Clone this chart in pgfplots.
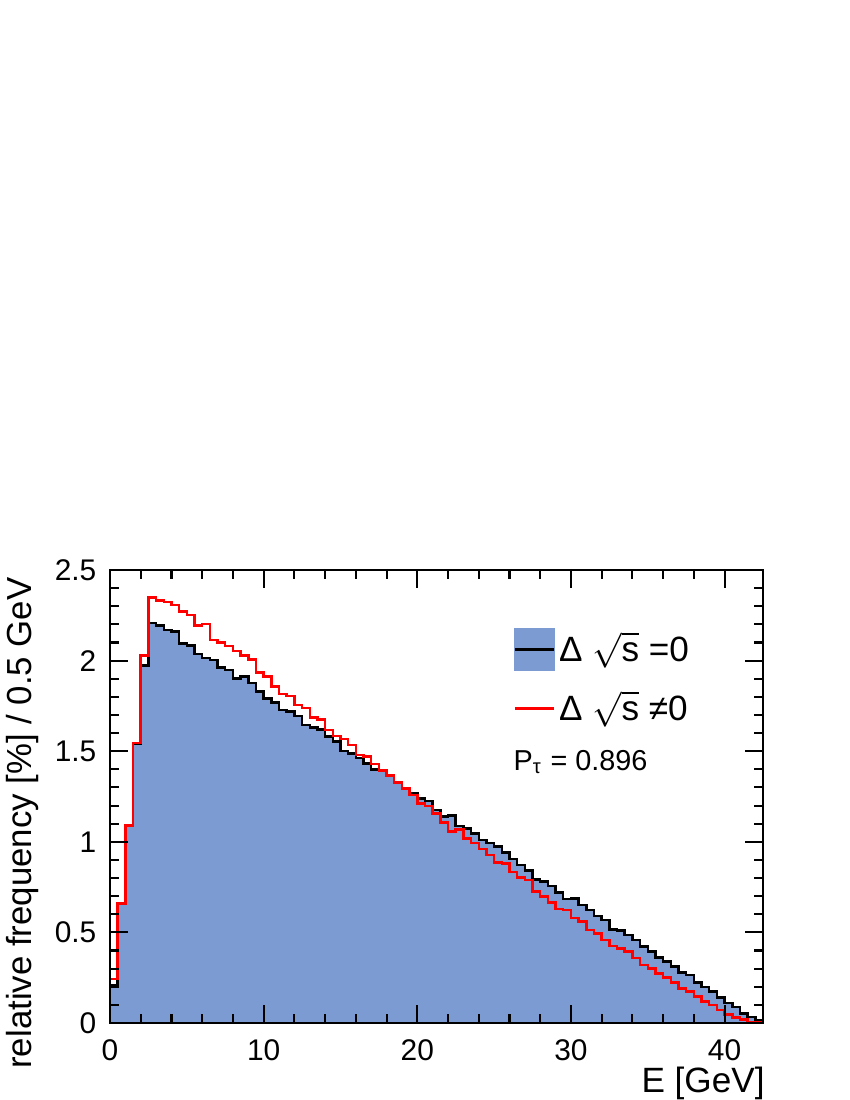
\documentclass[border=0pt]{standalone}
\usepackage{pgfplots}
\pgfplotsset{compat=1.18}
\usepackage{pgfplotstable}
\usepackage{fontspec}
\setmainfont{Liberation Sans}
\definecolor{histblue}{RGB}{124,155,211}

% bin left edge, Delta sqrt(s)=0, Delta sqrt(s)!=0 ; last row closes the last bin
\pgfplotstableread{
x black red
0.0 0.21 0.243
0.5 0.66 0.66
1.0 1.09 1.09
1.5 1.54 1.544
2.0 1.974 2.027
2.5 2.206 2.349
3.0 2.193 2.331
3.5 2.169 2.322
4.0 2.160 2.307
4.5 2.095 2.270
5.0 2.084 2.252
5.5 2.035 2.193
6.0 2.013 2.202
6.5 2.003 2.114
7.0 1.963 2.099
7.5 1.948 2.081
8.0 1.902 2.053
8.5 1.911 2.027
9.0 1.875 2.007
9.5 1.829 1.935
10.0 1.792 1.911
10.5 1.770 1.856
11.0 1.727 1.816
11.5 1.718 1.806
12.0 1.694 1.755
12.5 1.645 1.737
13.0 1.632 1.687
13.5 1.621 1.676
14.0 1.580 1.617
14.5 1.553 1.584
15.0 1.501 1.566
15.5 1.488 1.534
16.0 1.461 1.479
16.5 1.433 1.470
17.0 1.400 1.430
17.5 1.393 1.393
18.0 1.370 1.365
18.5 1.325 1.328
19.0 1.290 1.295
19.5 1.270 1.258
20.0 1.238 1.212
20.5 1.225 1.199
21.0 1.175 1.157
21.5 1.139 1.107
22.0 1.144 1.056
22.5 1.087 1.069
23.0 1.074 1.019
23.5 1.047 0.992
24.0 1.010 0.960
24.5 0.992 0.927
25.0 0.973 0.887
25.5 0.942 0.881
26.0 0.905 0.832
26.5 0.872 0.804
27.0 0.841 0.789
27.5 0.793 0.725
28.0 0.780 0.697
28.5 0.756 0.664
29.0 0.721 0.629
29.5 0.684 0.624
30.0 0.688 0.578
30.5 0.651 0.559
31.0 0.624 0.513
31.5 0.590 0.495
32.0 0.568 0.458
32.5 0.517 0.425
33.0 0.510 0.412
33.5 0.486 0.394
34.0 0.458 0.360
34.5 0.421 0.320
35.0 0.394 0.302
35.5 0.362 0.274
36.0 0.339 0.252
36.5 0.311 0.223
37.0 0.278 0.191
37.5 0.265 0.173
38.0 0.223 0.145
38.5 0.200 0.118
39.0 0.173 0.099
39.5 0.142 0.072
40.0 0.109 0.048
40.5 0.087 0.031
41.0 0.053 0.020
41.5 0.032 0.007
42.0 0.015 0.003
42.5 0.015 0.003
}\spectrum

\begin{document}
\begin{tikzpicture}
% page = 850 x 1100 px at 0.1 mm per px, axis box lower left at (0,0)
\useasboundingbox (-11mm,-7.7mm) rectangle (74mm,102.3mm);
\begin{axis}[
  scale only axis,
  width=65.3mm, height=45.3mm,
  xmin=0, xmax=42.5, ymin=0, ymax=2.5,
  xtick={0,10,20,30,40}, minor x tick num=4,
  ytick={0,0.5,1,1.5,2,2.5}, minor y tick num=4,
  tick align=inside,
  major tick length=1.8mm, minor tick length=0.9mm,
  axis line style={line width=0.6pt},
  every tick/.style={black, line width=0.6pt},
  axis on top,
  /pgf/number format/assume math mode=true,
  ticklabel style={font=\fontsize{8.5}{10}\selectfont},
  yticklabel style={anchor=east, inner sep=0pt, xshift=-1.3mm},
  xticklabel style={anchor=north, inner sep=0pt, yshift=-1.6mm},
  xlabel={E [GeV]},
  ylabel={relative frequency [\%] / 0.5 GeV},
  label style={font=\fontsize{8.6}{10}\selectfont, inner sep=0pt},
  every axis x label/.style={at={([xshift=1.4mm, yshift=-3.2mm]rel axis cs:1,0)}, anchor=north east},
  every axis y label/.style={at={([xshift=-5.9mm, yshift=0.5mm]rel axis cs:0,1)}, rotate=90, anchor=south east,
    font=\fontsize{9.9}{11}\selectfont},
  legend style={at={(rel axis cs:0.617,0.874)}, anchor=north west, draw=none, fill=none,
    font=\fontsize{10}{12}\selectfont, inner sep=0pt, row sep=1.6mm,
    nodes={inner sep=0.4mm}},
  legend cell align=left,
]
\addplot[const plot, fill=histblue, draw=black, line width=0.7pt,
  legend image code/.code={
    \fill[histblue] (0mm,-2mm) rectangle (3.9mm,2mm);
    \draw[black, line width=0.7pt] (0mm,0mm) -- (3.9mm,0mm);}]
  table[x=x, y=black] {\spectrum} \closedcycle;
\addlegendentry{Δ $\sqrt{\mbox{s}}$ =0}
\addplot[const plot, draw=red, line width=0.7pt,
  legend image code/.code={
    \draw[red, line width=0.7pt] (0mm,0mm) -- (3.9mm,0mm);}]
  table[x=x, y=red] {\spectrum};
\addlegendentry{Δ $\sqrt{\mbox{s}}$ ≠0}
\node[anchor=west, inner sep=0pt, font=\fontsize{8.2}{10}\selectfont]
  at (rel axis cs:0.617,0.576) {P\textsubscript{τ} = 0.896};
\end{axis}
\end{tikzpicture}
\end{document}
